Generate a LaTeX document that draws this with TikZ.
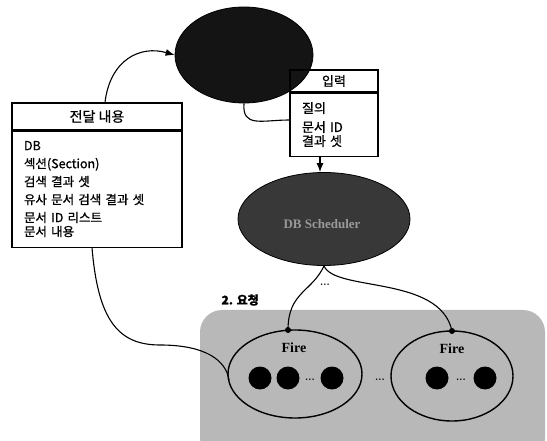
\documentclass[tikz,border=0pt]{standalone}
\usepackage{fontspec}
\newfontfamily\kr[FakeBold=1]{Noto Sans CJK KR}
\newfontfamily\serifb{Liberation Serif}
\usetikzlibrary{shapes.geometric,arrows.meta}
\begin{document}
\begin{tikzpicture}[x=1pt,y=-1pt,
  darkell/.style={ellipse,draw=black,line width=0.8pt,inner sep=0pt},
  fireell/.style={ellipse,draw=black,line width=1.4pt,inner sep=0pt},
  headbox/.style={draw=black,line width=1.1pt,inner sep=0pt,font=\kr\fontsize{13}{15}\selectfont},
  bodybox/.style={draw=black,line width=1.1pt,inner ysep=0pt,inner xsep=12pt,anchor=north,font=\kr\fontsize{12.5}{14}\selectfont},
  ball/.style={circle,fill=black,inner sep=0pt,minimum size=23pt},
  conn/.style={line width=1.1pt},
  arr/.style={line width=1.1pt,-{Latex[length=9pt,width=7pt]}},
  tip/.style={circle,fill=black,inner sep=0pt,minimum size=6pt},
  firelbl/.style={font=\serifb\bfseries\fontsize{14}{16}\selectfont},
  dotlbl/.style={font=\bfseries\fontsize{10}{12}\selectfont}
]
\useasboundingbox (0,0) rectangle (547,441);
% gray region
\fill[black!28,rounded corners=22pt] (200,310) rectangle (545,460);
% top ellipse
\node[darkell,fill=black!92,minimum width=138pt,minimum height=96pt] (top) at (244,55) {};
% middle ellipse
\node[darkell,fill=black!78,minimum width=172pt,minimum height=93pt] (mid) at (324,219) {};
\node[font=\serifb\bfseries\fontsize{13}{15}\selectfont,text=black!40] (midtxt) at (322,224) {DB Scheduler};
% right box
\node[headbox,minimum width=88pt,minimum height=22pt] (inhead) at (334,81) {입력};
\node[bodybox,minimum width=88pt,minimum height=63pt,text width=64pt,align=left] (inbody) at (inhead.south) {\fontsize{13}{19}\selectfont 질의\\문서 ID\\결과 셋};
% left box
\node[headbox,minimum width=170pt,minimum height=27pt] (lhead) at (97,116.5) {\fontsize{14}{16}\selectfont 전달 내용};
\node[bodybox,minimum width=170pt,minimum height=116pt,text width=146pt,align=left] (lbody) at (lhead.south) {\fontsize{12.5}{18}\selectfont DB\\섹션(Section)\\검색 결과 셋\\유사 문서 검색 결과 셋\\문서 ID 리스트\\문서 내용};
% fire ellipses
\node[fireell,minimum width=134pt,minimum height=88pt] (f1) at (295,374) {};
\node[fireell,minimum width=122pt,minimum height=90pt] (f2) at (452,376) {};
\node[firelbl] (f1l) at (294,348) {Fire};
\node[firelbl] (f2l) at (452,349) {Fire};
\node[ball] (b1) at (260,378) {};
\node[ball] (b2) at (288,378) {};
\node[ball] (b3) at (332,378) {};
\node[dotlbl] (d1) at (310,380) {...};
\node[ball] (b4) at (437,378) {};
\node[ball] (b5) at (485,378) {};
\node[dotlbl] (d2) at (461,380) {...};
\node[dotlbl] (d3) at (380,380) {...};
% labels
\node[font=\kr\bfseries\fontsize{12}{14}\selectfont,anchor=west] (req) at (218,300) {2. 요청};
\node[dotlbl] (d4) at (325,285) {...};
% connection points
\coordinate (f1t) at (288,330);
\coordinate (f2t) at (452,331);
\coordinate (f1w) at (229,380);
\node[tip] at (f1t) {};
\node[tip] at (f2t) {};
% connectors
\draw[arr] ([xshift=8pt]lhead.north) .. controls (110,60) and (140,45) .. (top.west);
\draw[conn] (top.south) .. controls (242,128) and (262,120) .. (inbody.west |- 0,120);
\draw[arr] (inbody.south -| 320,0) -- (mid.north -| 320,0);
\draw[conn] ([xshift=-5pt]lbody.south) .. controls (98,320) and (118,345) .. (160,345) .. controls (205,345) and (226,360) .. (f1w);
\draw[conn] (mid.south) .. controls (312,292) and (288,292) .. (f1t);
\draw[conn] (mid.south) .. controls (335,292) and (440,275) .. (f2t);
\end{tikzpicture}
\end{document}
